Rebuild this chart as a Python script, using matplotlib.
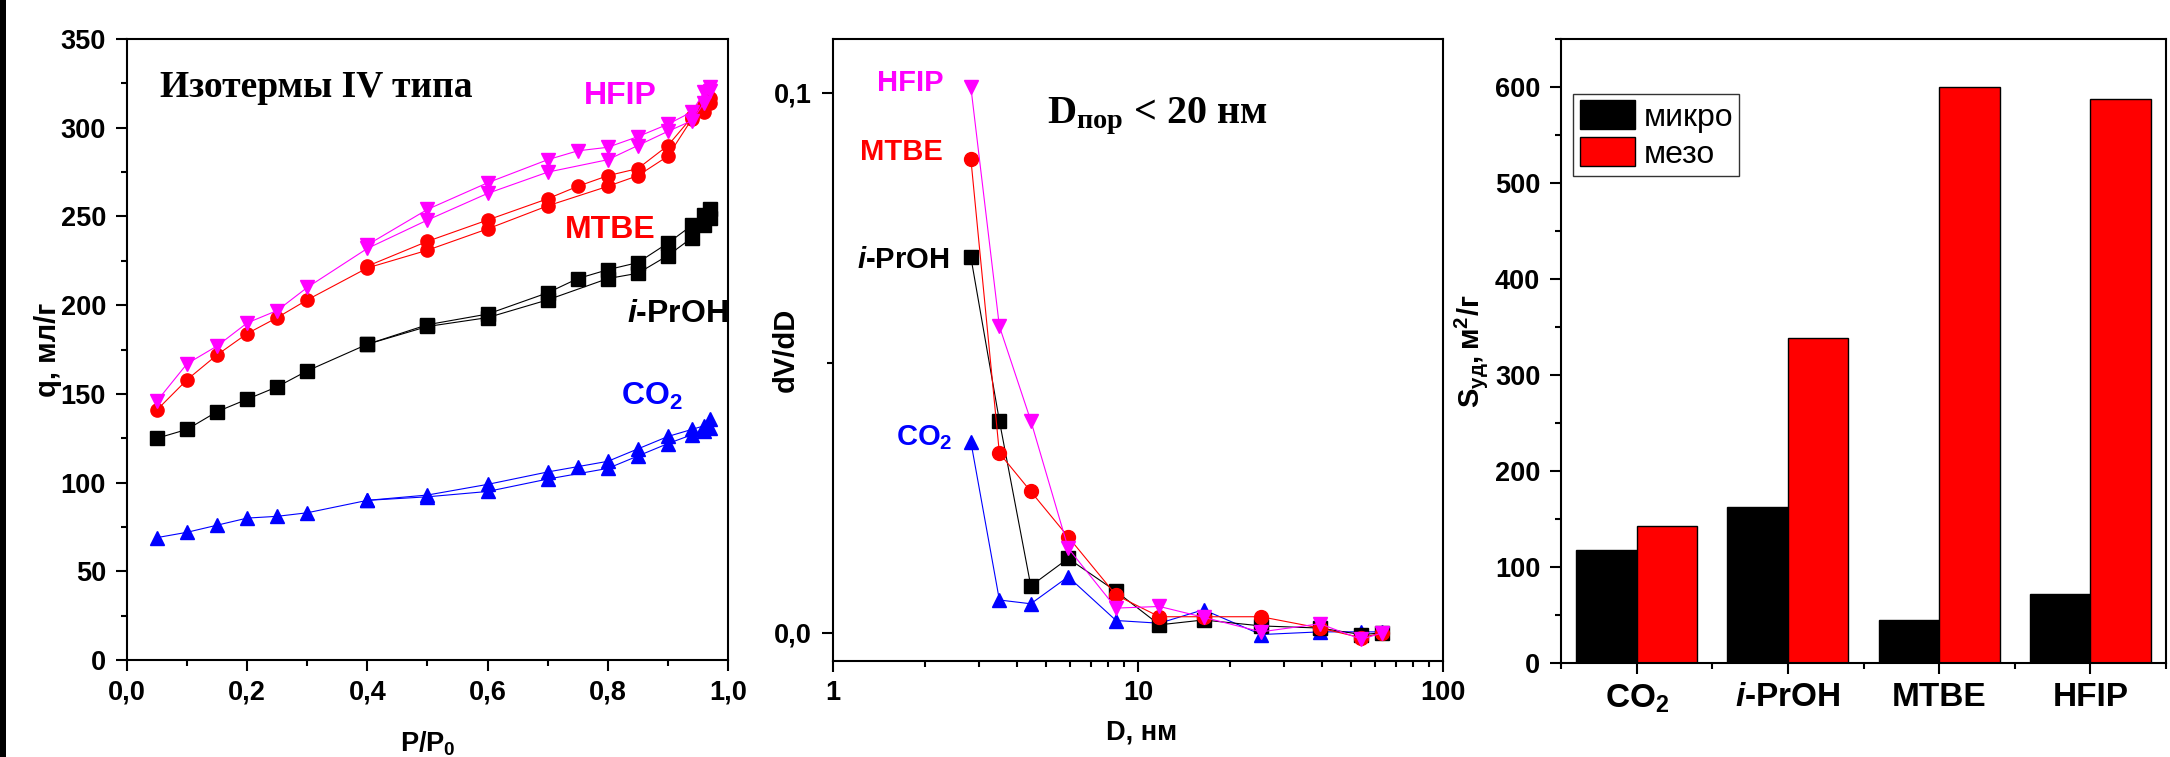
import numpy as np
import matplotlib
matplotlib.use("Agg")
import matplotlib.pyplot as plt
from matplotlib.ticker import MultipleLocator, FixedLocator, FuncFormatter, LogLocator, NullFormatter
from matplotlib.patches import Rectangle

plt.rcParams['font.family'] = ['Liberation Sans', 'DejaVu Sans']
plt.rcParams['font.weight'] = 'bold'
plt.rcParams['axes.labelweight'] = 'bold'
plt.rcParams['mathtext.fontset'] = 'custom'
plt.rcParams['mathtext.it'] = 'Liberation Sans:italic:bold'
plt.rcParams['mathtext.rm'] = 'Liberation Sans:bold'

# --- isotherms: adsorption / desorption branches ---
p_ads = [0.05, 0.1, 0.15, 0.2, 0.25, 0.3, 0.4, 0.5, 0.6, 0.7, 0.8, 0.85, 0.9, 0.94, 0.96, 0.97]
p_des = [0.97, 0.96, 0.94, 0.9, 0.85, 0.8, 0.75, 0.7, 0.6, 0.5, 0.4]

hfip_ads = [146, 167, 177, 190, 197, 210, 232, 248, 263, 275, 282, 290, 298, 304, 314, 321]
hfip_des = [323, 320, 309, 302, 295, 289, 287, 282, 269, 254, 234]
mtbe_ads = [141, 158, 172, 184, 193, 203, 221, 231, 243, 256, 267, 273, 284, 305, 309, 314]
mtbe_des = [317, 313, 306, 290, 277, 273, 267, 260, 248, 236, 222]
ipr_ads = [125, 130, 140, 147, 154, 163, 178, 188, 193, 203, 215, 218, 228, 238, 245, 249]
ipr_des = [254, 251, 245, 235, 224, 220, 215, 207, 195, 189, 178]
co2_ads = [69, 72, 76, 80, 81, 83, 90, 92, 95, 102, 108, 115, 122, 127, 129, 131]
co2_des = [136, 132, 130, 126, 119, 112, 109, 106, 99, 93, 90]

# --- pore size distribution ---
d_pore = [2.83, 3.51, 4.45, 5.9, 8.47, 11.75, 16.4, 25.3, 39.5, 54, 63]
hfip_psd = [0.1011, 0.0568, 0.0393, 0.0157, 0.0046, 0.0049, 0.0029, 0.0002, 0.0017, -0.0012, 0.0]
mtbe_psd = [0.0878, 0.0333, 0.0262, 0.0178, 0.0070, 0.0030, 0.0030, 0.0030, 0.0009, -0.0009, 0.0]
ipr_psd = [0.0696, 0.0393, 0.0087, 0.0138, 0.0077, 0.0015, 0.0024, 0.0013, 0.0009, -0.0003, 0.0]
co2_psd = [0.0354, 0.0061, 0.0054, 0.0104, 0.0023, 0.0018, 0.0043, -0.0003, 0.0002, 0.0002, 0.0002]

# --- specific surface area ---
samples = [r'$\mathregular{CO_2}$', r'$i$-PrOH', 'MTBE', 'HFIP']
s_micro = [118, 163, 45, 72]
s_meso = [143, 339, 600, 587]

MAG, RED, BLK, BLU = '#FF00FF', '#FF0000', '#000000', '#0000FF'
TICK_FS = 19.5
LAB_FS = 21

fig = plt.figure(figsize=(21.7, 7.57), dpi=100)
ax1 = fig.add_axes([0.0585, 0.1281, 0.277, 0.8203])
ax2 = fig.add_axes([0.3839, 0.1268, 0.2811, 0.8217])
ax3 = fig.add_axes([0.7194, 0.1242, 0.2788, 0.8243])

# dark strip on the left edge
fig.patches.append(Rectangle((0, 0), 6 / 2170, 1, transform=fig.transFigure,
                             facecolor='black', edgecolor='none'))


def style_axes(ax):
    for s in ax.spines.values():
        s.set_linewidth(1.5)
    ax.tick_params(which='major', direction='out', length=8, width=1.5, labelsize=TICK_FS)
    ax.tick_params(which='minor', direction='out', length=4.5, width=1.5)
    ax.tick_params(axis='x', pad=6)
    ax.tick_params(axis='y', pad=7)


comma = FuncFormatter(lambda v, _: f"{v:.1f}".replace('.', ','))

# ---------- panel 1: isotherms ----------
lk = dict(lw=0.8, ms=9.5)
for ads, des, c, m in [(co2_ads, co2_des, BLU, '^'), (ipr_ads, ipr_des, BLK, 's'),
                       (mtbe_ads, mtbe_des, RED, 'o'), (hfip_ads, hfip_des, MAG, 'v')]:
    ax1.plot(p_ads, ads, color=c, marker=m, **lk)
    ax1.plot(p_des, des, color=c, marker=m, **lk)

ax1.set_xlim(0, 1.0)
ax1.set_ylim(0, 350)
ax1.xaxis.set_major_locator(MultipleLocator(0.2))
ax1.xaxis.set_minor_locator(MultipleLocator(0.1))
ax1.xaxis.set_major_formatter(comma)
ax1.yaxis.set_major_locator(MultipleLocator(50))
ax1.yaxis.set_minor_locator(MultipleLocator(25))
style_axes(ax1)
ax1.set_ylabel('q, мл/г', fontsize=LAB_FS)
ax1.set_xlabel(r'$\mathregular{P/P_0}$', fontsize=19.5)
ax1.yaxis.set_label_coords(-0.108, 0.5)
ax1.xaxis.set_label_coords(0.5, -0.112)

ax1.text(0.055, 317.5, 'Изотермы IV типа', family='Liberation Serif', fontsize=27, ha='left', va='baseline')
ax1.text(0.760, 313.4, 'HFIP', color=MAG, fontsize=23, ha='left', va='baseline')
ax1.text(0.728, 237.8, 'MTBE', color=RED, fontsize=23, ha='left', va='baseline')
ax1.text(0.832, 190.5, r'$i$-PrOH', color=BLK, fontsize=23, ha='left', va='baseline')
ax1.text(0.822, 143.7, r'$\mathregular{CO_2}$', color=BLU, fontsize=23, ha='left', va='baseline')

# ---------- panel 2: pore size distribution ----------
for vals, c, m in [(co2_psd, BLU, '^'), (ipr_psd, BLK, 's'), (mtbe_psd, RED, 'o'), (hfip_psd, MAG, 'v')]:
    ax2.plot(d_pore, vals, color=c, marker=m, lw=0.8, ms=10)

ax2.set_xscale('log')
ax2.set_xlim(1, 100)
ax2.set_ylim(-0.0052, 0.110)
ax2.xaxis.set_major_locator(LogLocator(base=10))
ax2.xaxis.set_minor_locator(LogLocator(base=10, subs=np.arange(2, 10)))
ax2.xaxis.set_major_formatter(FuncFormatter(lambda v, _: f"{v:g}"))
ax2.xaxis.set_minor_formatter(NullFormatter())
ax2.yaxis.set_major_locator(FixedLocator([0.0, 0.1]))
ax2.yaxis.set_minor_locator(FixedLocator([0.05]))
ax2.yaxis.set_major_formatter(comma)
style_axes(ax2)
ax2.set_ylabel('dV/dD', fontsize=LAB_FS)
ax2.set_xlabel('D, нм', fontsize=19.5)
ax2.yaxis.set_label_coords(-0.055, 0.5)
ax2.xaxis.set_label_coords(0.505, -0.094)

ax2.text(1.394, 0.1004, 'HFIP', color=MAG, fontsize=21, ha='left', va='baseline')
ax2.text(1.226, 0.0875, 'MTBE', color=RED, fontsize=21, ha='left', va='baseline')
ax2.text(1.2, 0.0676, r'$i$-PrOH', color=BLK, fontsize=21, ha='left', va='baseline')
ax2.text(1.605, 0.0348, r'$\mathregular{CO_2}$', color=BLU, fontsize=21, ha='left', va='baseline')
ax2.text(5.03, 0.0944, r'$\mathregular{D_{пор}}$ < 20 нм', family='Liberation Serif',
         fontsize=29, ha='left', va='baseline')

# ---------- panel 3: surface area bars ----------
x = np.arange(len(samples))
w = 0.4
ax3.bar(x - w / 2, s_micro, w, color='black', edgecolor='black', lw=1, label='микро')
ax3.bar(x + w / 2, s_meso, w, color=RED, edgecolor='black', lw=1, label='мезо')
ax3.set_xlim(-0.5, len(samples) - 0.5)
ax3.set_ylim(0, 650)
ax3.set_xticks(x)
ax3.set_xticklabels(samples)
ax3.xaxis.set_minor_locator(FixedLocator(np.arange(-0.5, len(samples), 1.0)))
ax3.yaxis.set_major_locator(MultipleLocator(100))
ax3.yaxis.set_minor_locator(MultipleLocator(50))
style_axes(ax3)
ax3.tick_params(axis='x', which='major', labelsize=24, pad=6)
ax3.set_ylabel(r'$\mathregular{S_{уд}, м^2/г}$', fontsize=LAB_FS)
ax3.yaxis.set_label_coords(-0.117, 0.5)

leg = ax3.legend(loc='upper left', bbox_to_anchor=(0.02, 0.912), borderaxespad=0,
                 prop={'family': 'Liberation Sans', 'weight': 'normal', 'size': 23},
                 fancybox=False, frameon=True, handlelength=1.75, handleheight=1.0,
                 labelspacing=0.15, handletextpad=0.25, borderpad=0.2)
leg.get_frame().set_edgecolor('black')
leg.get_frame().set_linewidth(1.0)

fig.savefig('out.png', dpi=100)
